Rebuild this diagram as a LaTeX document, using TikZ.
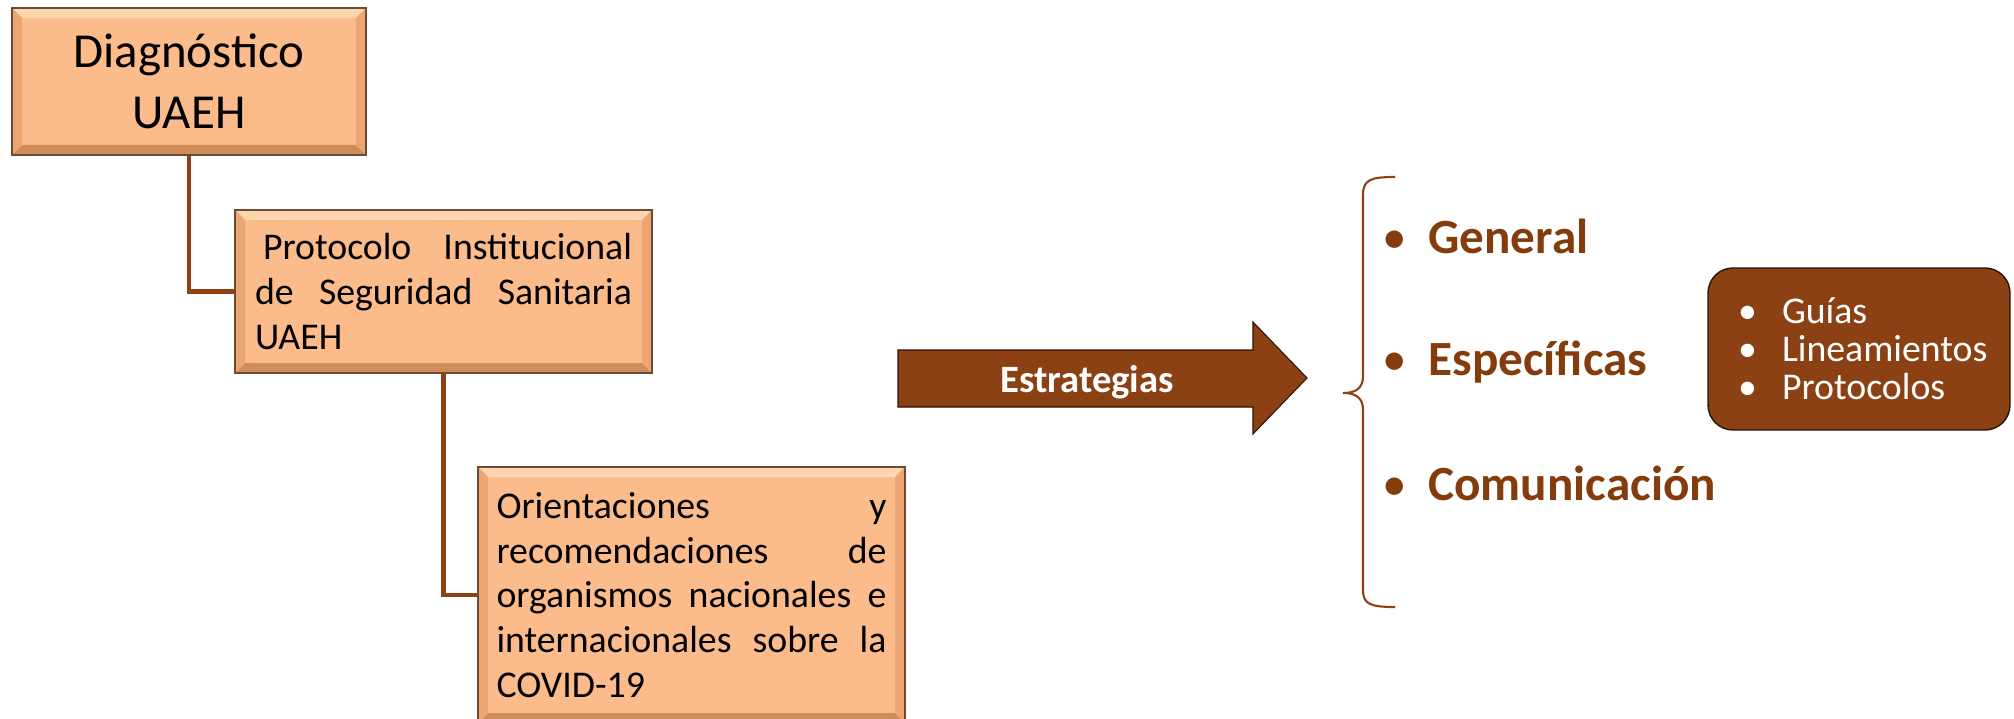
\documentclass[tikz,border=0pt]{standalone}
\usepackage{fontspec}
\setmainfont{Carlito}

\definecolor{peach}{HTML}{FBBB8B}
\definecolor{bevtop}{HTML}{FDD6B0}
\definecolor{bevside}{HTML}{EBA672}
\definecolor{bevbot}{HTML}{CF8B58}
\definecolor{boxedge}{HTML}{6A4C36}
\definecolor{linkbrown}{HTML}{8E4212}
\definecolor{darkbrown}{HTML}{8B4113}
\definecolor{textbrown}{HTML}{843C0C}

\tikzset{
    bevel/.style={path picture={
        \fill[bevtop] (path picture bounding box.north west) -- (path picture bounding box.north east)
            -- ([shift={(-0.2,-0.2)}]path picture bounding box.north east) -- ([shift={(0.2,-0.2)}]path picture bounding box.north west) -- cycle;
        \fill[bevbot] (path picture bounding box.south west) -- (path picture bounding box.south east)
            -- ([shift={(-0.2,0.2)}]path picture bounding box.south east) -- ([shift={(0.2,0.2)}]path picture bounding box.south west) -- cycle;
        \fill[bevside] (path picture bounding box.north west) -- ([shift={(0.2,-0.2)}]path picture bounding box.north west)
            -- ([shift={(0.2,0.2)}]path picture bounding box.south west) -- (path picture bounding box.south west) -- cycle;
        \fill[bevside] (path picture bounding box.north east) -- ([shift={(-0.2,-0.2)}]path picture bounding box.north east)
            -- ([shift={(-0.2,0.2)}]path picture bounding box.south east) -- (path picture bounding box.south east) -- cycle;
    }},
    stagebox/.style={draw=boxedge,line width=0.8pt,fill=peach,bevel,inner sep=0pt},
    link/.style={draw=linkbrown,line width=2.3pt},
    item/.style={anchor=base west,inner sep=0pt,text=textbrown,font=\fontsize{28}{34}\selectfont\bfseries}
}

\begin{document}
\begin{tikzpicture}
    \clip (0,0) rectangle (40.28,-14.38);

    % Boxes
    \node[stagebox,minimum width=7.08cm,minimum height=2.94cm,align=center,
          font=\fontsize{27.8}{34.6}\selectfont] (diag) at (3.78,-1.63) {Diagnóstico\\UAEH};

    \node[stagebox,minimum width=8.34cm,minimum height=3.26cm,text width=7.54cm,align=left,
          font=\fontsize{21.5}{25.5}\selectfont] (prot) at (8.87,-5.83)
          {\hspace{0.16cm}Protocolo\hfill Institucional\\ de\hfill Seguridad\hfill Sanitaria\\ UAEH};

    \node[stagebox,minimum width=8.54cm,minimum height=5.12cm,text width=7.8cm,align=left,
          font=\fontsize{21.5}{25.5}\selectfont] (orient) at (13.83,-11.90)
          {Orientaciones\hfill y\\ recomendaciones\hfill de\\ organismos\hfill nacionales\hfill e\\
           internacionales\hfill sobre\hfill la\\ COVID-19};

    % Links
    \draw[link] (diag.south) |- (prot.west);
    \draw[link] (prot.south) |- (orient.west);

    % Arrow
    \fill[darkbrown,draw=black!70!darkbrown,line width=0.6pt] (17.96,-7.00) -- (25.06,-7.00) -- (25.06,-6.44)
        -- (26.14,-7.56) -- (25.06,-8.68) -- (25.06,-8.14) -- (17.96,-8.14) -- cycle;
    \node[anchor=base,text=white,font=\fontsize{22}{26}\selectfont\bfseries] (estr) at (21.74,-7.84) {Estrategias};

    % Brace
    \draw[linkbrown,line width=1.2pt] (27.90,-3.54) .. controls (27.40,-3.54) and (27.26,-3.60) .. (27.26,-3.90)
        -- (27.26,-7.52) .. controls (27.26,-7.78) and (27.10,-7.86) .. (26.86,-7.86)
        .. controls (27.10,-7.86) and (27.26,-7.94) .. (27.26,-8.20)
        -- (27.26,-11.80) .. controls (27.26,-12.08) and (27.40,-12.14) .. (27.90,-12.14);

    % Strategy items
    \node[item] (gen) at (27.64,-5.06) {\makebox[0.92cm][l]{\textmd{\textbullet}}General};
    \node[item] (esp) at (27.64,-7.50) {\makebox[0.92cm][l]{\textmd{\textbullet}}Específicas};
    \node[item] (com) at (27.64,-10.00) {\makebox[0.92cm][l]{\textmd{\textbullet}}Comunicación};

    % Details
    \node[fill=darkbrown,draw=black!70!darkbrown,line width=0.8pt,rounded corners=0.5cm,
          minimum width=6.04cm,minimum height=3.24cm,text width=4.84cm,align=left,inner sep=0pt,
          text=white,font=\fontsize{21.5}{21.5}\selectfont] (det) at (37.18,-6.98)
          {\makebox[0.88cm][l]{\textbullet}Guías\\ \makebox[0.88cm][l]{\textbullet}Lineamientos\\
           \makebox[0.88cm][l]{\textbullet}Protocolos};
\end{tikzpicture}
\end{document}
